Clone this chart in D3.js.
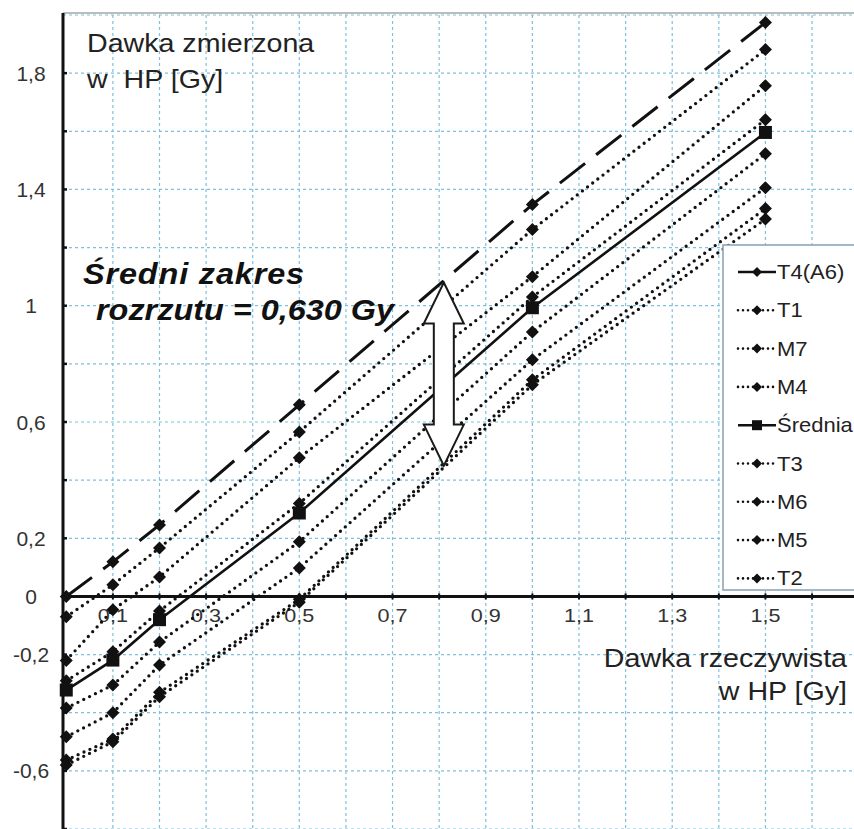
<!DOCTYPE html>
<html>
<head>
<meta charset="utf-8">
<script src="https://cdn.jsdelivr.net/npm/d3@7"></script>
<style>
  html, body { margin: 0; padding: 0; background: #fff; }
  svg { display: block; }
  text { font-family: "Liberation Sans", Arial, sans-serif; fill: #222; }
</style>
</head>
<body>
<svg id="chart" width="854" height="829"></svg>
<script>
// Dose delivered (x) and dose measured by each dosimeter (y), in Gy
const doses = [0, 0.1, 0.2, 0.5, 1.0, 1.5];
const seriesNames = ["T4(A6)", "T1", "M7", "M4", "Średnia", "T3", "M6", "M5", "T2"];
const valT4 = [0.00, 0.119, 0.246, 0.659, 1.348, 1.974];
const valT1 = [-0.07, 0.040, 0.167, 0.566, 1.262, 1.881];
const valM7 = [-0.22, -0.046, 0.067, 0.477, 1.100, 1.757];
const valM4 = [-0.29, -0.190, -0.050, 0.320, 1.030, 1.640];
const valMean = [-0.322, -0.219, -0.080, 0.287, 0.993, 1.596];
const valT3 = [-0.384, -0.305, -0.157, 0.188, 0.910, 1.523];
const valM6 = [-0.483, -0.400, -0.236, 0.098, 0.814, 1.406];
const valM5 = [-0.563, -0.490, -0.330, -0.010, 0.745, 1.334];
const valT2 = [-0.580, -0.500, -0.345, -0.020, 0.728, 1.298];
const seriesValues = [valT4, valT1, valM7, valM4, valMean, valT3, valM6, valM5, valT2];

// Axis tick labels
const xTickLabels = [0.1, 0.3, 0.5, 0.7, 0.9, 1.1, 1.3, 1.5];
const yTickLabels = [1.8, 1.4, 1, 0.6, 0.2, 0, -0.2, -0.6];

// Mean spread annotation
const spreadLabel = ["Średni zakres", "rozrzutu = 0,630 Gy"];
const spreadValue = 0.630;
const spreadDose = 0.81;
const spreadTop = 1.08;

const svg = d3.select("#chart");
const W = 854, H = 829;

const x = d3.scaleLinear().domain([-0.007, 1.69]).range([63, 854]);
const y = d3.scaleLinear().domain([-0.8, 2.0]).range([829, 15]);

const fmt = v => String(v).replace(".", ",");

// grid
const grid = svg.append("g");
const xGrid = d3.range(1, 17).map(i => i / 10);
const yGrid = d3.range(-4, 11).map(i => i / 5).filter(v => Math.abs(v) > 1e-9);
grid.selectAll("line.vx").data(xGrid).join("line")
  .attr("x1", d => x(d)).attr("x2", d => x(d))
  .attr("y1", y(2.0)).attr("y2", H)
  .attr("stroke", "#7fc0de").attr("stroke-width", 1.2)
  .attr("stroke-dasharray", "3 3");
grid.selectAll("line.hy").data(yGrid).join("line")
  .attr("x1", x(-0.007)).attr("x2", W)
  .attr("y1", d => y(d)).attr("y2", d => y(d))
  .attr("stroke", "#7fc0de").attr("stroke-width", 1.2)
  .attr("stroke-dasharray", "3 3");

// top border of plot area
svg.append("line")
  .attr("x1", x(-0.007)).attr("x2", W)
  .attr("y1", y(2.0) - 2).attr("y2", y(2.0) - 2)
  .attr("stroke", "#bcbcbc").attr("stroke-width", 2);

// axes
const axes = svg.append("g");
axes.append("line")
  .attr("x1", x(-0.007)).attr("x2", x(-0.007))
  .attr("y1", y(2.0) - 2).attr("y2", H)
  .attr("stroke", "#111").attr("stroke-width", 3);
axes.append("line")
  .attr("x1", x(-0.007)).attr("x2", W)
  .attr("y1", y(0)).attr("y2", y(0))
  .attr("stroke", "#111").attr("stroke-width", 3);
axes.selectAll("line.yt").data(d3.range(-4, 10).map(i => i / 5)).join("line")
  .attr("x1", x(-0.007)).attr("x2", x(-0.007) + 4)
  .attr("y1", d => y(d)).attr("y2", d => y(d))
  .attr("stroke", "#111").attr("stroke-width", 2.5);
axes.selectAll("line.xt").data(d3.range(1, 17).map(i => i / 10)).join("line")
  .attr("x1", d => x(d)).attr("x2", d => x(d))
  .attr("y1", y(0) - 3).attr("y2", y(0) + 3)
  .attr("stroke", "#111").attr("stroke-width", 2);

// tick labels
svg.selectAll("text.xl").data(xTickLabels).join("text")
  .attr("transform", d => `translate(${x(d)},622) scale(1.2,1)`)
  .attr("text-anchor", "middle")
  .style("font-size", "18px").style("fill", "#333")
  .text(fmt);
svg.selectAll("text.yl").data(yTickLabels).join("text")
  .attr("transform", d => `translate(31,${y(d) + 7.5})`)
  .attr("text-anchor", "middle")
  .style("font-size", "21px").style("fill", "#333")
  .text(fmt);

// axis titles
const yTitle = ["Dawka zmierzona", "w  HP [Gy]"];
svg.selectAll("text.yt").data(yTitle).join("text")
  .attr("transform", (d, i) => `translate(87,${52 + i * 36}) scale(1.1,1)`)
  .style("font-size", "26px").style("white-space", "pre")
  .text(d => d);
const xTitle = ["Dawka rzeczywista", "w HP [Gy]"];
svg.selectAll("text.xt").data(xTitle).join("text")
  .attr("transform", (d, i) => `translate(847,${667 + i * 33}) scale(1.1,1)`)
  .attr("text-anchor", "end")
  .style("font-size", "26px")
  .text(d => d);

// series
const styleOf = name => {
  if (name === "T4(A6)") return { dash: "32 14", width: 3, cap: "butt", marker: "diamond" };
  if (name === "Średnia") return { dash: null, width: 2.6, cap: "butt", marker: "square" };
  return { dash: "0 6.5", width: 3.3, cap: "round", marker: "diamond" };
};
const diamond = r => `M0,${-r}L${r},0L0,${r}L${-r},0Z`;
const square = s => `M${-s / 2},${-s / 2}h${s}v${s}h${-s}Z`;

const line = d3.line().x(d => x(d[0])).y(d => y(d[1]));
const seriesData = seriesNames.map((name, i) => ({
  name, style: styleOf(name), pts: doses.map((dv, j) => [dv, seriesValues[i][j]])
}));

const sg = svg.append("g");
seriesData.forEach(s => {
  sg.append("path")
    .attr("d", line(s.pts))
    .attr("fill", "none").attr("stroke", "#111")
    .attr("stroke-width", s.style.width)
    .attr("stroke-linecap", s.style.cap)
    .attr("stroke-dasharray", s.style.dash);
});
seriesData.forEach(s => {
  sg.selectAll(null).data(s.pts).join("path")
    .attr("transform", d => `translate(${x(d[0])},${y(d[1])})`)
    .attr("d", s.style.marker === "square" ? square(13) : diamond(6.5))
    .attr("fill", "#111");
});

// spread annotation: double arrow of length equal to the mean spread
const ax = x(spreadDose), aTop = y(spreadTop), aBot = y(spreadTop - spreadValue);
const hw = 20, sw = 10, hl = 41;
const arrowPts = [
  [ax, aTop], [ax + hw, aTop + hl], [ax + sw, aTop + hl], [ax + sw, aBot - hl],
  [ax + hw, aBot - hl], [ax, aBot], [ax - hw, aBot - hl], [ax - sw, aBot - hl],
  [ax - sw, aTop + hl], [ax - hw, aTop + hl]
];
svg.append("path")
  .attr("d", "M" + arrowPts.map(p => p.join(",")).join("L") + "Z")
  .attr("fill", "#fff").attr("stroke", "#1a1a1a").attr("stroke-width", 2)
  .attr("stroke-linejoin", "miter");

svg.selectAll("text.sp").data(spreadLabel).join("text")
  .attr("transform", (d, i) => `translate(${i === 0 ? 83 : 96},${i === 0 ? 284 : 320}) scale(1.08,1)`)
  .style("font-size", "30px").style("font-weight", "bold").style("font-style", "italic")
  .style("letter-spacing", (d, i) => i === 0 ? "0.8px" : "0px")
  .style("fill", "#111")
  .text(d => d);

// legend
const lg = svg.append("g");
const lgTop = 245, lgLeft = 723, lgStep = 38.3;
lg.append("rect")
  .attr("x", lgLeft).attr("y", lgTop).attr("width", 160).attr("height", 345)
  .attr("fill", "#fff").attr("stroke", "#8fa6b6").attr("stroke-width", 1.6);
seriesData.forEach((s, i) => {
  const cy = 272 + i * lgStep;
  const g = lg.append("g").attr("transform", `translate(0,${cy})`);
  g.append("line")
    .attr("x1", 738).attr("x2", 776).attr("y1", 0).attr("y2", 0)
    .attr("stroke", "#111")
    .attr("stroke-width", s.style.marker === "square" ? 2.6 : 2.6)
    .attr("stroke-linecap", s.style.cap)
    .attr("stroke-dasharray", s.name === "T4(A6)" || s.name === "Średnia" ? null : "0 5");
  g.append("path")
    .attr("transform", "translate(757,0)")
    .attr("d", s.style.marker === "square" ? square(10) : diamond(5))
    .attr("fill", "#111");
  g.append("text")
    .attr("transform", "translate(777,7) scale(1.1,1)")
    .style("font-size", "20px")
    .text(s.name);
});
</script>
</body>
</html>
